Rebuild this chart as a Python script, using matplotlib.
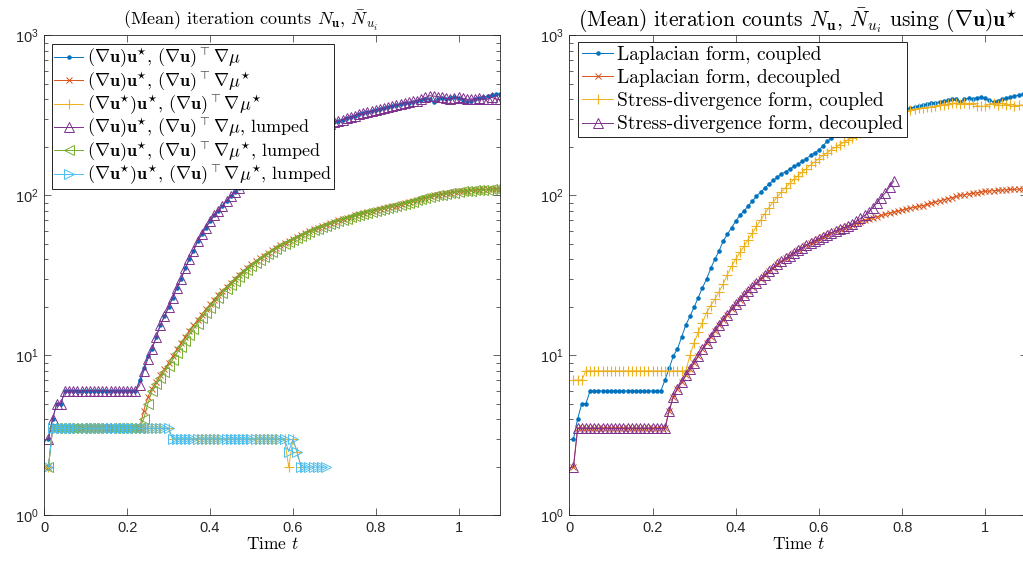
import numpy as np
import matplotlib
matplotlib.use("Agg")
import matplotlib.pyplot as plt
from matplotlib.ticker import LogLocator, FuncFormatter, NullFormatter, FixedLocator

plt.rcParams["mathtext.fontset"] = "cm"
plt.rcParams["font.family"] = ["Liberation Sans", "DejaVu Sans"]

DT = 0.01  # time step of the solver output

# ---- left panel data -------------------------------------------------------
grad_u_mu = ([3, 4, 5, 5] + [6] * 18 +
             [7, 8.3, 9.9, 11, 13, 15.5, 17.5, 20, 23, 26.5, 30, 35, 40, 45, 52, 57, 63, 69,
              75, 80, 86, 92, 99, 105, 111, 118, 124, 130, 136, 141, 146, 152, 157, 163, 170,
              178, 185, 192, 205, 218, 228, 238, 248, 257, 265, 273, 280, 287, 293, 298, 304,
              310, 316, 322, 327, 332, 336, 340, 345, 352, 358, 362, 368, 372, 376, 380, 385,
              390, 393, 398, 402, 385, 400, 405, 402, 408, 410, 405, 395, 385, 392, 400, 405,
              412, 418, 425, 430, 432])

grad_u_mustar = ([2] + [3.5] * 22 +
                 [4.5, 5.5, 6.2, 6.8, 7.5, 8.2, 9.0, 9.9, 10.9, 11.9, 13, 14.2, 15.4, 16.7, 18,
                  19.4, 20.8, 22.3, 23.8, 25.3, 26.9, 28.5, 30.1, 31.8, 33.5, 35.2, 37, 38.7,
                  40.4, 42.1, 43.8, 45.5, 47.2, 48.9, 50.5, 52.1, 53.7, 55.3, 56.9, 58.4, 59.9,
                  61.4, 62.9, 64.3, 65.7, 67.1, 68.5, 69.8, 71.1, 72.4, 73.7, 75, 76.2, 77.4,
                  78.6, 79.8, 81, 82.1, 83.2, 84.3, 85.4, 86.5, 88, 89.5, 91, 92.5, 94, 95.5,
                  97, 98.5, 100, 101, 102, 103, 104, 105, 106, 106.5, 107, 107.5, 108, 108.5,
                  109, 109, 109.5, 110, 110])

gradstar_mustar = [2] + [3.5] * 29 + [3] * 28 + [2, 3, 2.5, 2]

grad_u_mu_lumped = ([3, 4, 5, 5] + [6] * 18 +
                    [6.5, 8, 9.5, 11, 13, 15.5, 17.5, 20, 23, 26.5, 30, 35, 40, 45, 52, 57, 63,
                     69, 75, 80, 86, 92, 99, 105, 111, 118, 124, 130, 136, 141, 146, 152, 157,
                     163, 170, 178, 185, 192, 205, 218, 228, 238, 248, 257, 265, 273, 280, 287,
                     293, 298, 304, 310, 316, 322, 327, 332, 336, 340, 345, 352, 358, 362, 368,
                     375, 380, 382, 388, 392, 400, 410, 420, 418, 415, 412, 405, 400, 408, 410,
                     405, 398, 402, 400, 405, 398, 400, 410, 402, 398])

grad_u_mustar_lumped = ([2] + [3.5] * 22 +
                        [4, 5, 6, 6.6, 7.2, 7.9, 8.6, 9.4, 10.3, 11.3, 12.3, 13.4, 14.6, 15.8,
                         17.1, 18.5, 19.9, 21.4, 22.9, 24.4, 26, 27.6, 29.2, 30.9, 32.6, 34.3,
                         36, 37.8, 39.5, 41.2, 42.9, 44.6, 46.3, 48, 49.6, 51.2, 52.8, 54.4, 56,
                         57.5, 59, 60.5, 62, 63.4, 64.8, 66.2, 67.6, 69, 70.3, 71.6, 72.9, 74.2,
                         75.5, 76.8, 78, 79.2, 80.4, 81.6, 82.8, 84, 85.1, 86.2, 87.3, 88.8, 90,
                         91.5, 93, 94.5, 96, 97.5, 99, 100, 101, 102, 103, 104, 105, 106, 106,
                         107, 107.5, 108, 108, 108.5, 109, 109, 109.5])

gradstar_mustar_lumped = [2] + [3.5] * 29 + [3] * 28 + [2.5, 3, 2.5, 2, 2, 2, 2, 2, 2, 2]

# ---- right panel data ------------------------------------------------------
laplace_coupled = grad_u_mu
laplace_decoupled = grad_u_mustar

stress_coupled = ([7, 7, 7] + [8] * 25 +
                  [10, 12, 14, 16, 18.5, 20.5, 22.5, 25, 28, 32, 36, 40, 44, 48, 53, 58, 64, 70,
                   77, 84, 91, 98, 105, 112, 119, 126, 133, 140, 147, 155, 162, 170, 178, 185,
                   193, 200, 208, 215, 222, 230, 237, 245, 252, 260, 268, 276, 284, 292, 300,
                   310, 320, 330, 338, 342, 346, 350, 352, 355, 358, 362, 366, 370, 372, 376,
                   378, 375, 380, 372, 378, 365, 360, 362, 372, 378, 370, 376, 368, 372, 365,
                   366, 368, 370])

stress_decoupled = ([2] + [3.5] * 22 +
                    [4.5, 5.5, 6.2, 6.8, 7.5, 8.2, 9.0, 9.9, 10.9, 11.9, 13, 14.2, 15.4, 16.7,
                     18, 19.4, 20.8, 22.3, 23.8, 25.3, 26.9, 28.5, 30.1, 31.8, 33.5, 35.2, 37,
                     38.7, 40.4, 42.1, 43.8, 45.5, 47.2, 48.9, 50.5, 52.1, 53.7, 55.3, 56.9,
                     58.4, 59.9, 61.4, 62.9, 64.3, 66, 69, 72, 75, 79, 84, 90, 97, 104,
                     113, 123])

left_labels = [
    r"$(\nabla\mathbf{u})\mathbf{u}^{\star}$, $(\nabla\mathbf{u})^{\top}\nabla\mu$",
    r"$(\nabla\mathbf{u})\mathbf{u}^{\star}$, $(\nabla\mathbf{u})^{\top}\nabla\mu^{\star}$",
    r"$(\nabla\mathbf{u}^{\star})\mathbf{u}^{\star}$, $(\nabla\mathbf{u})^{\top}\nabla\mu^{\star}$",
    r"$(\nabla\mathbf{u})\mathbf{u}^{\star}$, $(\nabla\mathbf{u})^{\top}\nabla\mu$, lumped",
    r"$(\nabla\mathbf{u})\mathbf{u}^{\star}$, $(\nabla\mathbf{u})^{\top}\nabla\mu^{\star}$, lumped",
    r"$(\nabla\mathbf{u}^{\star})\mathbf{u}^{\star}$, $(\nabla\mathbf{u})^{\top}\nabla\mu^{\star}$, lumped",
]
right_labels = [
    "Laplacian form, coupled",
    "Laplacian form, decoupled",
    "Stress-divergence form, coupled",
    "Stress-divergence form, decoupled",
]

x_ticks = [0, 0.2, 0.4, 0.6, 0.8, 1]
x_tick_labels = ["0", "0.2", "0.4", "0.6", "0.8", "1"]

# ---- styling ---------------------------------------------------------------
BLUE, ORANGE, YELLOW = "#0072BD", "#D95319", "#EDB120"
PURPLE, GREEN, CYAN = "#7E2F8E", "#77AC30", "#4DBEEE"
AX_COLOR = "#262626"

styles = [
    dict(color=BLUE, marker=".", markersize=4.5),
    dict(color=ORANGE, marker="x", markersize=4.5, markeredgewidth=0.7),
    dict(color=YELLOW, marker="+", markersize=7, markeredgewidth=0.8),
    dict(color=PURPLE, marker="^", markersize=6.5, markerfacecolor="none", markeredgewidth=0.7),
    dict(color=GREEN, marker="<", markersize=6.5, markerfacecolor="none", markeredgewidth=0.7),
    dict(color=CYAN, marker=">", markersize=6.5, markerfacecolor="none", markeredgewidth=0.7),
]

CM = "cmr10"


def times(values):
    return DT * np.arange(1, len(values) + 1)


def style_axes(ax):
    ax.set_yscale("log")
    ax.set_xlim(0, 1.1)
    ax.set_ylim(1, 1000)
    ax.xaxis.set_major_locator(FixedLocator(x_ticks))
    ax.set_xticklabels(x_tick_labels)
    ax.yaxis.set_major_locator(LogLocator(base=10, numticks=10))
    ax.yaxis.set_minor_locator(LogLocator(base=10, subs=np.arange(2, 10), numticks=20))
    ax.yaxis.set_major_formatter(FuncFormatter(lambda v, p: r"$\mathregular{10^{%d}}$" % round(np.log10(v))))
    ax.yaxis.set_minor_formatter(NullFormatter())
    ax.tick_params(which="both", direction="in", top=True, right=True, width=0.5,
                   color=AX_COLOR, labelcolor=AX_COLOR, labelsize=10.5)
    ax.tick_params(which="major", length=5, pad=4)
    ax.tick_params(which="minor", length=2.8)
    for s in ax.spines.values():
        s.set_linewidth(0.6)
        s.set_color(AX_COLOR)
    ax.set_xlabel(r"Time $t$", fontfamily=CM, fontsize=12.5, labelpad=1, color="black")


fig = plt.figure(figsize=(10.23, 5.66), dpi=100)
W, H = 1023.0, 566.0
ax1 = fig.add_axes([44.3 / W, 50.7 / H, 455.7 / W, 479.8 / H])
ax2 = fig.add_axes([569.3 / W, 50.7 / H, 457.6 / W, 479.8 / H])

left_series = [grad_u_mu, grad_u_mustar, gradstar_mustar,
               grad_u_mu_lumped, grad_u_mustar_lumped, gradstar_mustar_lumped]
for vals, st, lab in zip(left_series, styles, left_labels):
    ax1.plot(times(vals), vals, linewidth=0.7, label=lab, **st)

right_series = [laplace_coupled, laplace_decoupled, stress_coupled, stress_decoupled]
right_styles = [styles[0], styles[1], styles[2], styles[3]]
for vals, st, lab in zip(right_series, right_styles, right_labels):
    ax2.plot(times(vals), vals, linewidth=0.7, label=lab, **st)

style_axes(ax1)
style_axes(ax2)
ax1.set_title(r"(Mean) iteration counts $N_{\mathbf{u}}$, $\bar{N}_{u_i}$",
              fontfamily=CM, fontsize=13, pad=7, color="black", x=0.452)
ax2.set_title(r"(Mean) iteration counts $N_{\mathbf{u}}$, $\bar{N}_{u_i}$ using $(\nabla\mathbf{u})\mathbf{u}^{\star}$",
              fontfamily=CM, fontsize=15.5, pad=6, color="black")

legend_kw = dict(loc="upper left", borderaxespad=0, fancybox=False, framealpha=1,
                 edgecolor="black", handletextpad=0.2)
leg1 = ax1.legend(bbox_to_anchor=(0.0176, 0.982), prop=dict(family=CM, size=13),
                  borderpad=0.12, labelspacing=-0.04, handlelength=1.6, **legend_kw)
leg2 = ax2.legend(bbox_to_anchor=(0.0197, 0.987), prop=dict(family=CM, size=14),
                  borderpad=0.2, labelspacing=0.27, handlelength=1.6, **legend_kw)
for leg in (leg1, leg2):
    leg.get_frame().set_linewidth(0.6)

fig.savefig("out.png", dpi=100)
